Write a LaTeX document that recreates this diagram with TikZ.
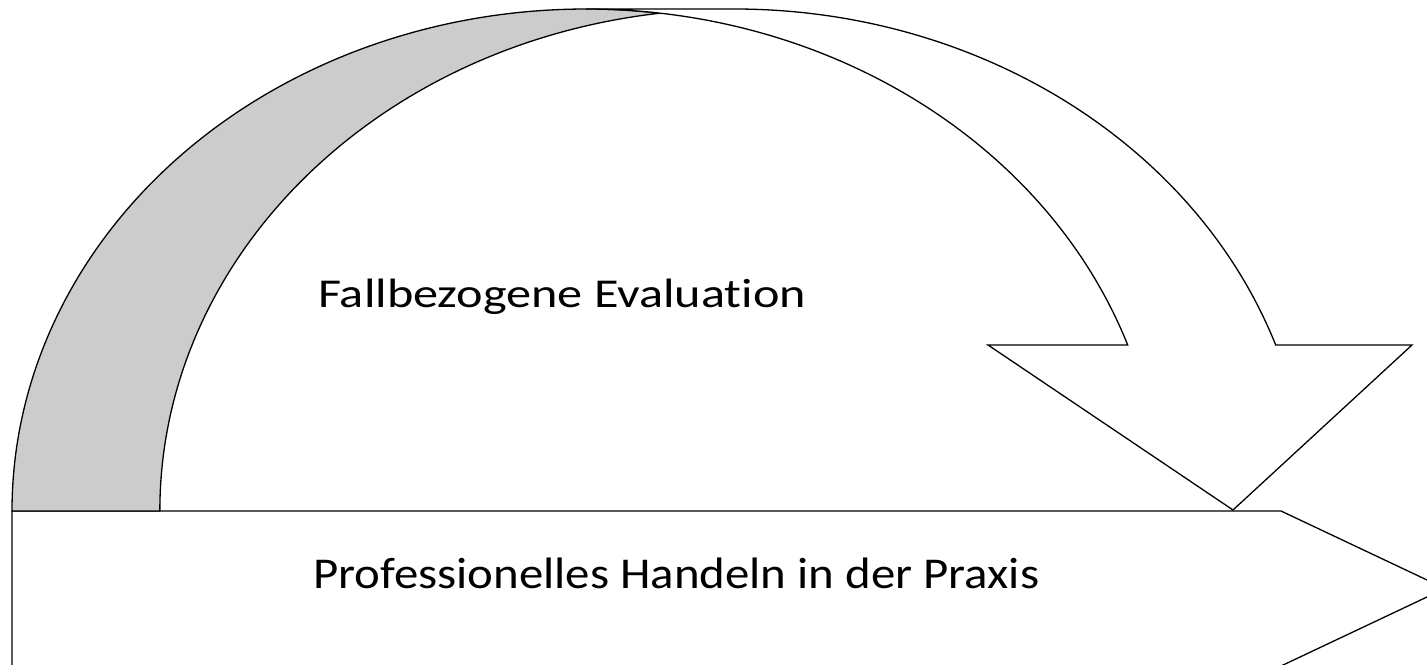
\documentclass[tikz,border=0pt]{standalone}
\usepackage{fontspec}
\setmainfont{Carlito}[Ligatures=NoCommon]
\definecolor{bandgray}{RGB}{204,204,204}
\begin{document}
\begin{tikzpicture}[x=1pt, y=1pt,
    outline/.style={draw=black, line width=1.3pt, line join=miter},
    label/.style={inner sep=0pt, anchor=base west}]
    \useasboundingbox (0,0) rectangle (1427,664);
    \clip (0,0) rectangle (1427,664);
    % bottom arrow
    \draw[outline, fill=white] (12,153) -- (1281,153) -- (1445,75.5) -- (1281,-2) -- (12,-2) -- cycle;
    % back side of the curved arrow
    \draw[outline, fill=bandgray] (12,153) arc[start angle=180, end angle=82.6, x radius=574pt, y radius=502pt]
        arc[start angle=97.4, end angle=180, x radius=574pt, y radius=502pt] -- cycle;
    % front side with head
    \draw[outline, fill=white] (734,655) arc[start angle=90, end angle=19.31, x radius=574pt, y radius=502pt]
        -- (1412,319) -- (1233,154) -- (988,319) -- (1127.7,319)
        arc[start angle=19.31, end angle=90, x radius=574pt, y radius=502pt] -- cycle;
    \node[label, font=\fontsize{41}{49}\selectfont] (eval) at (318,356) {\scalebox{1.225}[1]{Fallbezogene Evaluation}};
    \node[label, font=\fontsize{44}{53}\selectfont] (praxis) at (313,75) {\scalebox{1.11}[1]{Professionelles Handeln in der Praxis}};
\end{tikzpicture}
\end{document}
